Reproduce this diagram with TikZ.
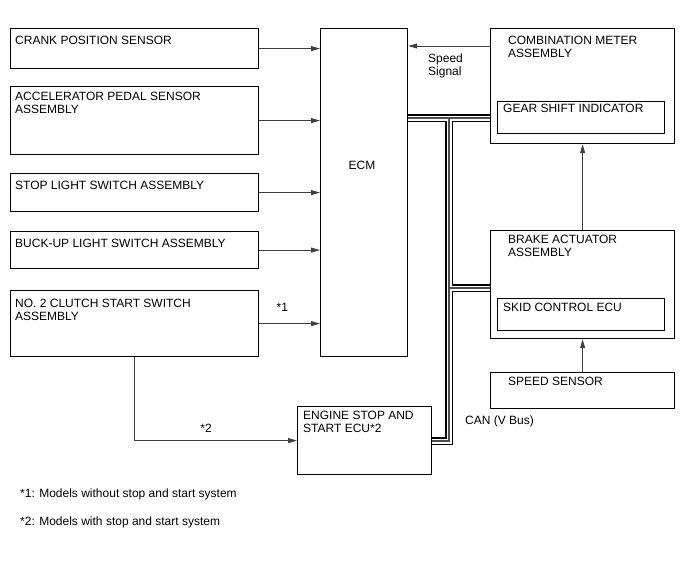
\documentclass[tikz,border=0pt]{standalone}
\usepackage{fontspec}
\setmainfont{Liberation Sans}
\usetikzlibrary{arrows.meta}

\begin{document}
\begin{tikzpicture}[x=1pt,y=-1pt,font=\fontsize{12}{13}\selectfont,
   blk/.style={draw,line width=1.2pt,anchor=north west,inner sep=0pt},
   lbl/.style={anchor=north west,align=left,inner sep=0pt},
   arr/.style={draw=black!75,line width=0.9pt,-{Triangle[length=9pt,width=5pt]}}]
  \useasboundingbox (0,0) rectangle (688,560);
  % input switches and sensors
  \node[blk,minimum width=248pt,minimum height=40pt] (crank)  at (10,28)  {};
  \node[blk,minimum width=248pt,minimum height=68pt] (accel)  at (10,86)  {};
  \node[blk,minimum width=248pt,minimum height=38pt] (stop)   at (10,173) {};
  \node[blk,minimum width=248pt,minimum height=37pt] (buck)   at (10,231) {};
  \node[blk,minimum width=248pt,minimum height=66pt] (clutch) at (10,290) {};
  \node[lbl] (crank-t)  at ([shift={(5pt,-8pt)}]crank.north west)  {CRANK POSITION SENSOR};
  \node[lbl] (accel-t)  at ([shift={(5pt,-6pt)}]accel.north west)  {ACCELERATOR PEDAL SENSOR\\ASSEMBLY};
  \node[lbl] (stop-t)   at ([shift={(5pt,-8pt)}]stop.north west)   {STOP LIGHT SWITCH ASSEMBLY};
  \node[lbl] (buck-t)   at ([shift={(5pt,-8pt)}]buck.north west)   {BUCK-UP LIGHT SWITCH ASSEMBLY};
  \node[lbl] (clutch-t) at ([shift={(5pt,-9pt)}]clutch.north west) {NO. 2 CLUTCH START SWITCH\\ASSEMBLY};
  % ECM
  \node[blk,minimum width=87pt,minimum height=328pt] (ecm) at (320,28) {};
  \node (ecm-t) at (362,165) {ECM};
  % meter and brake side
  \node[blk,minimum width=184pt,minimum height=115pt] (comb)  at (490,28)  {};
  \node[blk,minimum width=167pt,minimum height=32pt]  (gear)  at (497,101) {};
  \node[blk,minimum width=184pt,minimum height=108pt] (brake) at (490,230) {};
  \node[blk,minimum width=167pt,minimum height=32pt]  (skid)  at (497,298) {};
  \node[blk,minimum width=184pt,minimum height=36pt]  (spd)   at (490,372) {};
  \node[lbl] (comb-t)  at ([shift={(18pt,-8pt)}]comb.north west)  {COMBINATION METER\\ASSEMBLY};
  \node[lbl] (gear-t)  at ([shift={(6pt,-3pt)}]gear.north west)   {GEAR SHIFT INDICATOR};
  \node[lbl] (brake-t) at ([shift={(18pt,-5pt)}]brake.north west) {BRAKE ACTUATOR\\ASSEMBLY};
  \node[lbl] (skid-t)  at ([shift={(6pt,-5pt)}]skid.north west)   {SKID CONTROL ECU};
  \node[lbl] (spd-t)   at ([shift={(18pt,-5pt)}]spd.north west)   {SPEED SENSOR};
  % stop and start ECU
  \node[blk,minimum width=134pt,minimum height=68pt] (ecu) at (297,406) {};
  \node[lbl] (ecu-t) at ([shift={(6pt,-5pt)}]ecu.north west) {ENGINE STOP AND\\START ECU*2};
  % signal lines
  \foreach \src in {crank,accel,stop,buck}
    \draw[arr] (\src.east) -- (\src.east -| ecm.west);
  \draw[arr] (clutch.east) -- (clutch.east -| ecm.west)
       node[pos=0.38,above=8pt] (n1) {*1};
  \draw[arr] (clutch.south) |- (ecu.west)
       node[pos=0.72,above=4pt] (n2) {*2};
  \coordinate (sig) at (450,46);
  \draw[arr] (comb.west |- sig) -- (ecm.east |- sig);
  \node[lbl] (sig-t) at (428,54) {Speed\\Signal};
  \draw[arr] (brake.north) -- (comb.south);
  \draw[arr] (spd.north) -- (brake.south);
  % CAN bus
  \coordinate (j1) at (449,118);
  \coordinate (j2) at (449,288);
  \coordinate (j3) at (449,441);
  \foreach \w/\c in {8.5pt/black,5pt/white,1.2pt/black!70}
    \draw[line width=\w,\c] (ecm.east |- j1) -- (comb.west |- j1)
         (j1) -- (j3) -- (ecu.east |- j3) (j2) -- (brake.west |- j2);
  \node[lbl] (can-t) at (465,416) {CAN (V Bus)};
  % notes
  \node[lbl] (note1) at (20,489) {*1: Models without stop and start system};
  \node[lbl] (note2) at (20,517) {*2: Models with stop and start system};
\end{tikzpicture}
\end{document}
